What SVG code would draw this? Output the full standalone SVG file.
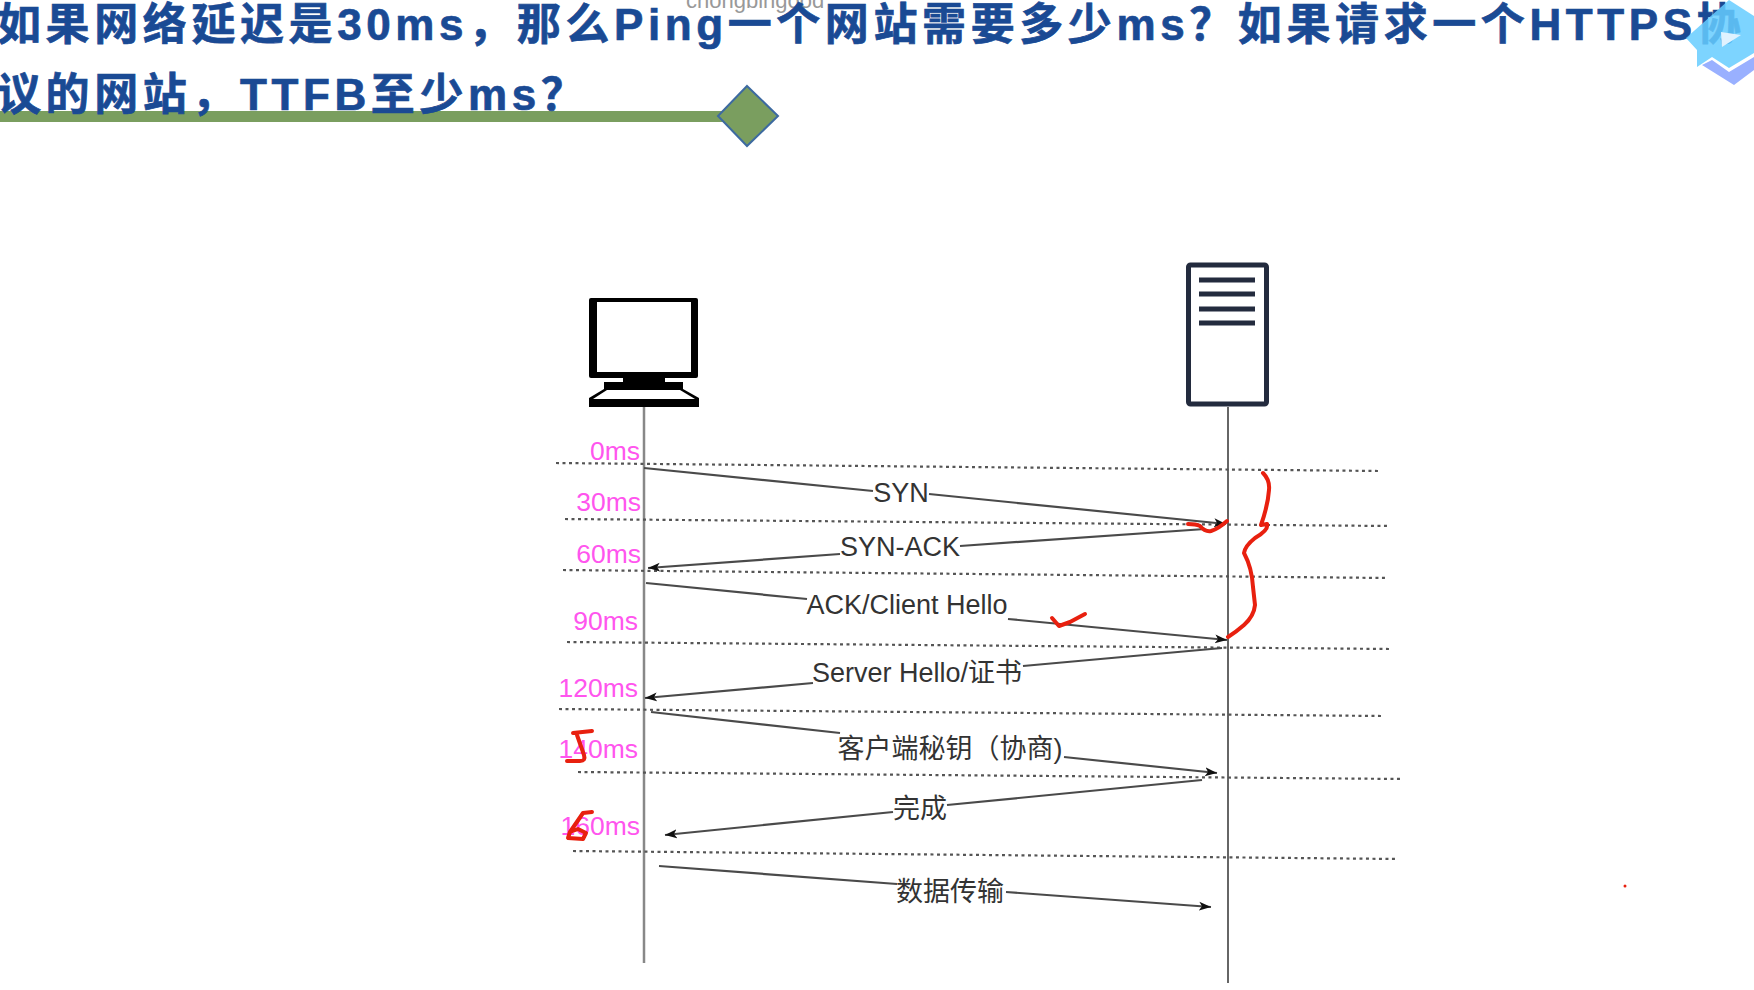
<svg xmlns="http://www.w3.org/2000/svg" width="1754" height="990" viewBox="0 0 1754 990">
<style>
.ttl{font-family:"Liberation Sans","Noto Sans CJK SC",sans-serif;font-weight:700;font-size:44px;letter-spacing:4.600px;fill:#1a4a94;stroke:#1a4a94;stroke-width:.7}
.lbl{font-family:"Liberation Sans","Noto Sans CJK SC",sans-serif;font-size:27px;fill:#333;text-anchor:middle}
.ms{font-family:"Liberation Sans",sans-serif;font-size:26.500px;fill:#ff55ee;text-anchor:end}
.dot{stroke:#555;stroke-width:2.200;stroke-dasharray:3 3.500;fill:none}
.msg{stroke:#4a4a4a;stroke-width:2.200;fill:none}
.red{stroke:#e8200f;stroke-width:4;fill:none;stroke-linecap:round;stroke-linejoin:round}
</style>
<defs>
<marker id="ah" markerUnits="userSpaceOnUse" markerWidth="13" markerHeight="11" refX="12" refY="5" orient="auto"><path d="M0,0.500 L12,5 L0,9.500 L3,5z" fill="#111"/></marker>
</defs>
<rect width="1754" height="990" fill="#fff"/>
<g id="header">
<text x="686" y="8" font-family="Liberation Sans,sans-serif" font-size="22" fill="#999">chongbingood</text>
<rect x="0" y="111" width="725" height="11" fill="#7a9e5f"/>
<polygon points="747,86 778,116 747,146 718,116" fill="#7a9e5f" stroke="#3d6aa0" stroke-width="2"/>
<text class="ttl" x="-3" y="40">如果网络延迟是30ms，那么Ping一个网站需要多少ms？如果请求一个HTTPS协</text>
<text class="ttl" x="-3" y="110">议的网站，TTFB至少ms？</text>
</g>
<g id="badge">
<polygon points="1702,65 1712,60 1729,72 1754,57 1754,70 1734,85" fill="#99b0ff"/>
<polygon points="1686,38 1729,0 1754,16 1754,53 1729,68 1712,57 1697,67 1697,50" fill="#66ccff" fill-opacity=".85"/>
<polygon points="1721,32 1741,35 1722,47" fill="#e0f2ff"/>
</g>
<g id="client">
<rect x="589" y="298" width="109" height="80" rx="2" fill="#000"/>
<rect x="597" y="302" width="94" height="70" fill="#fff"/>
<rect x="623" y="378" width="42" height="6" fill="#000"/>
<polygon points="604,382 683,382 683,389 699,398 699,407 589,407 589,398 604,389" fill="#000"/>
<polygon points="607,390 680,390 695,399 593,399" fill="#fff"/>
</g>
<g id="server">
<rect x="1188.500" y="265" width="78" height="139" rx="2" fill="#fff" stroke="#232b3e" stroke-width="5"/>
<rect x="1199" y="277.500" width="56" height="5" fill="#232b3e"/>
<rect x="1199" y="291.500" width="56" height="5" fill="#232b3e"/>
<rect x="1199" y="306.500" width="56" height="5" fill="#232b3e"/>
<rect x="1199" y="320.500" width="56" height="5" fill="#232b3e"/>
</g>
<g id="connectors">
<line x1="644" y1="407" x2="644" y2="963" stroke="#888" stroke-width="2.500"/>
<line x1="1228" y1="407" x2="1228" y2="983" stroke="#666" stroke-width="2"/>
<line class="dot" x1="556" y1="463" x2="1380" y2="471"/>
<line class="dot" x1="565" y1="519" x2="1390" y2="526"/>
<line class="dot" x1="563" y1="570" x2="1388" y2="578"/>
<line class="dot" x1="567" y1="642" x2="1391" y2="649"/>
<line class="dot" x1="559" y1="709" x2="1383" y2="716"/>
<line class="dot" x1="578" y1="772" x2="1403" y2="779"/>
<line class="dot" x1="573" y1="851" x2="1398" y2="859"/>
<line class="msg" x1="644" y1="468" x2="873" y2="491"/>
<line class="msg" x1="929" y1="494" x2="1226" y2="524" marker-end="url(#ah)"/>
<line class="msg" x1="1205" y1="529" x2="960" y2="546"/>
<line class="msg" x1="840" y1="554" x2="648" y2="568" marker-end="url(#ah)"/>
<line class="msg" x1="646" y1="583" x2="807" y2="599"/>
<line class="msg" x1="1008" y1="619" x2="1227" y2="640" marker-end="url(#ah)"/>
<line class="msg" x1="1222" y1="648" x2="1023" y2="666"/>
<line class="msg" x1="813" y1="683" x2="645" y2="698" marker-end="url(#ah)"/>
<line class="msg" x1="651" y1="712" x2="840" y2="733"/>
<line class="msg" x1="1064" y1="757" x2="1217" y2="773" marker-end="url(#ah)"/>
<line class="msg" x1="1202" y1="780" x2="947" y2="805"/>
<line class="msg" x1="893" y1="812" x2="665" y2="835" marker-end="url(#ah)"/>
<line class="msg" x1="659" y1="866" x2="897" y2="884"/>
<line class="msg" x1="1006" y1="892" x2="1211" y2="907" marker-end="url(#ah)"/>
</g>
<g id="message-labels">
<text class="lbl" x="901" y="502">SYN</text>
<text class="lbl" x="900" y="556">SYN-ACK</text>
<text class="lbl" x="907" y="614">ACK/Client Hello</text>
<text class="lbl" x="917" y="682">Server Hello/证书</text>
<text class="lbl" x="950" y="758">客户端秘钥（协商)</text>
<text class="lbl" x="920" y="818">完成</text>
<text class="lbl" x="950" y="901">数据传输</text>
</g>
<g id="time-labels">
<text class="ms" x="640" y="460">0ms</text>
<text class="ms" x="641" y="511">30ms</text>
<text class="ms" x="641" y="563">60ms</text>
<text class="ms" x="638" y="630">90ms</text>
<text class="ms" x="638" y="697">120ms</text>
<text class="ms" x="638" y="758">140ms</text>
<text class="ms" x="640" y="835">160ms</text>
</g>
<g id="annotations">
<path class="red" d="M1263,473 Q1270,480 1269,490 Q1268,505 1261,525 L1267,524 Q1269,530 1255,538 Q1245,546 1244,553 Q1252,568 1253,587 L1255,605 Q1254,616 1244,625 Q1236,632 1228,637"/>
<path class="red" d="M1188,524 Q1196,524 1200,526 Q1205,532 1211,531 Q1218,529 1227,521"/>
<path class="red" d="M1052,618 L1059,626 L1070,622 L1085,614"/>
<path class="red" d="M573,733 L592,731 M577,735 L584,755 Q586,761 580,761 L567,761"/>
<path class="red" stroke-width="5" d="M592,812 L583,813 L570,832 L568,838 L583,839 L586,833 L578,829 L570,832"/>
<circle cx="1625" cy="886" r="1.500" fill="#e8200f"/>
</g>
</svg>
